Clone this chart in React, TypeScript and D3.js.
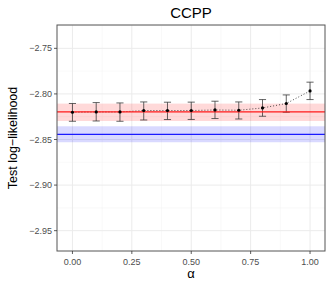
import { useRef, useEffect } from 'react';
import * as d3 from 'd3';

// alpha grid and test log-likelihood (mean, lower, upper)
const alphas = [0, 0.1, 0.2, 0.3, 0.4, 0.5, 0.6, 0.7, 0.8, 0.9, 1.0];
const means = [-2.8201, -2.8198, -2.8198, -2.8182, -2.8182, -2.8182, -2.8176, -2.8179, -2.8154, -2.8105, -2.7967];
const lowers = [-2.8300, -2.8297, -2.8300, -2.8286, -2.8281, -2.8280, -2.8270, -2.8275, -2.8245, -2.8201, -2.8062];
const uppers = [-2.8105, -2.8095, -2.8099, -2.8088, -2.8091, -2.8090, -2.8080, -2.8088, -2.8062, -2.8011, -2.7871];

// reference baselines: [line, band low, band high]
const redRef = [-2.8198, -2.8297, -2.8106];
const blueRef = [-2.8443, -2.8530, -2.8355];

const xTicks = [0, 0.25, 0.5, 0.75, 1.0];
const xMinor = [0.125, 0.375, 0.625, 0.875];
const yTicks = [-2.95, -2.9, -2.85, -2.8, -2.75];
const yMinor = [-2.975, -2.925, -2.875, -2.825, -2.775, -2.725];

export default function App() {
  const svgRef = useRef<SVGSVGElement>(null);

  useEffect(() => {
    if (!svgRef.current) return;
    const width = 332;
    const height = 285;
    const margin = { top: 25, right: 7, bottom: 34, left: 57 };
    const font = '"Liberation Sans", Arial, Helvetica, sans-serif';

    const svg = d3.select(svgRef.current);
    svg.selectAll('*').remove();
    svg.attr('width', width).attr('height', height);

    const x = d3.scaleLinear()
      .domain([-0.065, 1.063])
      .range([margin.left, width - margin.right]);

    const y = d3.scaleLinear()
      .domain([-2.9723, -2.7244])
      .range([height - margin.bottom, margin.top]);

    const [x0, x1] = x.range();
    const [y0, y1] = y.range();

    svg.append('rect')
      .attr('x', x0).attr('y', y1)
      .attr('width', x1 - x0).attr('height', y0 - y1)
      .attr('fill', '#fff');

    // minor grid
    svg.selectAll('line.xminor').data(xMinor).join('line')
      .attr('x1', d => x(d)).attr('x2', d => x(d))
      .attr('y1', y1).attr('y2', y0)
      .attr('stroke', '#f2f2f2').attr('stroke-width', 0.5);
    svg.selectAll('line.yminor').data(yMinor.filter(d => y(d) > y1 && y(d) < y0)).join('line')
      .attr('x1', x0).attr('x2', x1)
      .attr('y1', d => y(d)).attr('y2', d => y(d))
      .attr('stroke', '#f2f2f2').attr('stroke-width', 0.5);

    // major grid
    svg.append('g').selectAll('line').data(xTicks).join('line')
      .attr('x1', d => x(d)).attr('x2', d => x(d))
      .attr('y1', y1).attr('y2', y0)
      .attr('stroke', '#ebebeb').attr('stroke-width', 1);
    svg.append('g').selectAll('line').data(yTicks).join('line')
      .attr('x1', x0).attr('x2', x1)
      .attr('y1', d => y(d)).attr('y2', d => y(d))
      .attr('stroke', '#ebebeb').attr('stroke-width', 1);

    // bands
    const bands = [
      { ref: redRef, fill: 'rgba(255,0,0,0.15)' },
      { ref: blueRef, fill: 'rgba(0,0,255,0.15)' },
    ];
    svg.append('g').selectAll('rect').data(bands).join('rect')
      .attr('x', x0).attr('width', x1 - x0)
      .attr('y', d => y(d.ref[2]))
      .attr('height', d => y(d.ref[1]) - y(d.ref[2]))
      .attr('fill', d => d.fill);

    const pts = alphas.map((a, i) => ({ a, m: means[i], lo: lowers[i], hi: uppers[i] }));

    // error bars
    const eb = svg.append('g')
      .attr('stroke', '#333').attr('stroke-opacity', 0.85).attr('stroke-width', 0.9);
    const cap = 0.015;
    eb.selectAll('line.v').data(pts).join('line')
      .attr('x1', d => x(d.a)).attr('x2', d => x(d.a))
      .attr('y1', d => y(d.lo)).attr('y2', d => y(d.hi));
    eb.selectAll('line.t').data(pts).join('line')
      .attr('x1', d => x(d.a - cap)).attr('x2', d => x(d.a + cap))
      .attr('y1', d => y(d.hi)).attr('y2', d => y(d.hi));
    eb.selectAll('line.b').data(pts).join('line')
      .attr('x1', d => x(d.a - cap)).attr('x2', d => x(d.a + cap))
      .attr('y1', d => y(d.lo)).attr('y2', d => y(d.lo));

    // dotted line through means
    const line = d3.line<{ a: number; m: number }>().x(d => x(d.a)).y(d => y(d.m));
    svg.append('path')
      .attr('d', line(pts))
      .attr('fill', 'none')
      .attr('stroke', '#222')
      .attr('stroke-width', 0.8)
      .attr('stroke-dasharray', '1,2');

    // reference lines
    const refs = [
      { v: redRef[0], c: '#ff1a1a' },
      { v: blueRef[0], c: '#1a1aff' },
    ];
    svg.append('g').selectAll('line').data(refs).join('line')
      .attr('x1', x0).attr('x2', x1)
      .attr('y1', d => y(d.v)).attr('y2', d => y(d.v))
      .attr('stroke', d => d.c).attr('stroke-width', 1.3);

    // points
    svg.append('g').selectAll('circle').data(pts).join('circle')
      .attr('cx', d => x(d.a)).attr('cy', d => y(d.m))
      .attr('r', 1.6).attr('fill', '#000');

    // border
    svg.append('rect')
      .attr('x', x0).attr('y', y1)
      .attr('width', x1 - x0).attr('height', y0 - y1)
      .attr('fill', 'none').attr('stroke', '#555').attr('stroke-width', 1);

    // y axis ticks + labels
    const ya = svg.append('g');
    ya.selectAll('line').data(yTicks).join('line')
      .attr('x1', x0 - 3).attr('x2', x0)
      .attr('y1', d => y(d)).attr('y2', d => y(d))
      .attr('stroke', '#333').attr('stroke-width', 0.8);
    ya.selectAll('text').data(yTicks).join('text')
      .attr('x', x0 - 5).attr('y', d => y(d)).attr('dy', '0.35em')
      .attr('text-anchor', 'end')
      .attr('font-family', font).attr('font-size', '9px').attr('fill', '#4d4d4d')
      .text(d => d3.format('.2f')(d).replace('-', '\u2212'));

    // x axis ticks + labels
    const xa = svg.append('g');
    xa.selectAll('line').data(xTicks).join('line')
      .attr('x1', d => x(d)).attr('x2', d => x(d))
      .attr('y1', y0).attr('y2', y0 + 3)
      .attr('stroke', '#333').attr('stroke-width', 0.8);
    xa.selectAll('text').data(xTicks).join('text')
      .attr('x', d => x(d)).attr('y', y0 + 11).attr('dy', '0.35em')
      .attr('text-anchor', 'middle')
      .attr('font-family', font).attr('font-size', '9px').attr('fill', '#4d4d4d')
      .text(d => d3.format('.2f')(d));

    // titles
    svg.append('text')
      .attr('x', (x0 + x1) / 2).attr('y', 18)
      .attr('text-anchor', 'middle')
      .attr('font-family', font).attr('font-size', '15px').attr('fill', '#000')
      .text('CCPP');

    svg.append('text')
      .attr('x', (x0 + x1) / 2).attr('y', 278)
      .attr('text-anchor', 'middle')
      .attr('font-family', font).attr('font-size', '13px').attr('fill', '#000')
      .text('\u03b1');

    svg.append('text')
      .attr('transform', `translate(17,${(y0 + y1) / 2}) rotate(-90)`)
      .attr('text-anchor', 'middle')
      .attr('font-family', font).attr('font-size', '12.5px').attr('fill', '#000')
      .text('Test log\u2212likelihood');
  }, []);

  return <svg ref={svgRef} style={{ position: 'absolute', left: 0, top: 0, display: 'block' }} />;
}
